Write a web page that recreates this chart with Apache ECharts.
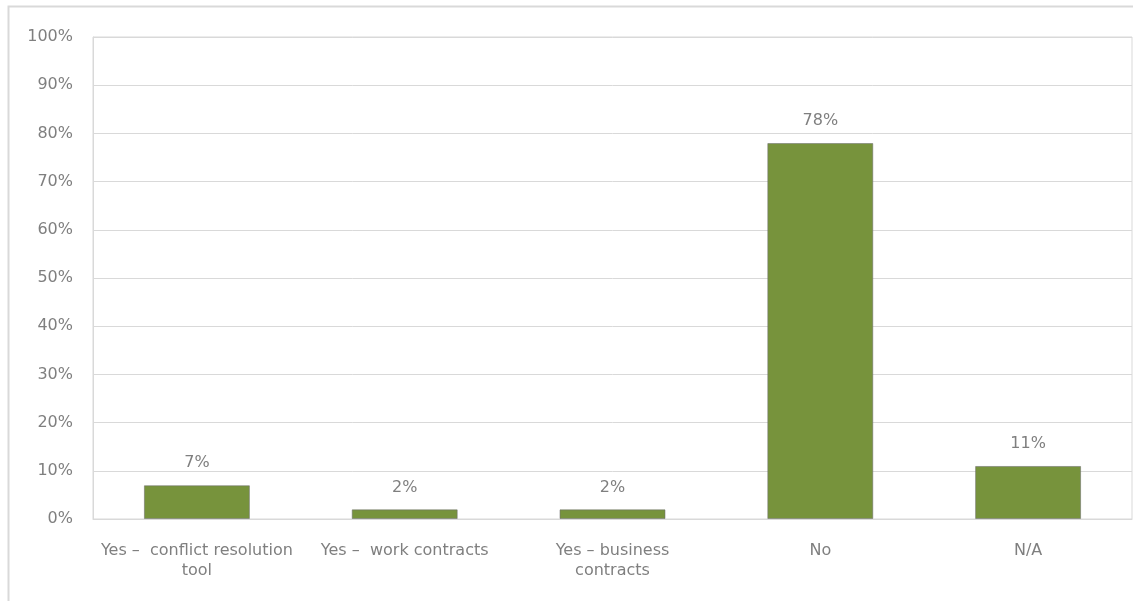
<!DOCTYPE html>
<html>
<head>
<meta charset="utf-8">
<script src="https://cdn.jsdelivr.net/npm/echarts@6/dist/echarts.min.js"></script>
<style>
  html, body { margin: 0; padding: 0; background: #fff; }
  #chart { width: 1133px; height: 601px; }
</style>
</head>
<body>
<div id="chart"></div>
<script>
// Survey answers and their share of respondents (%)
const categories = [
  'Yes \u2013  conflict resolution\ntool',
  'Yes \u2013  work contracts',
  'Yes \u2013 business\ncontracts',
  'No',
  'N/A'
];
const shares = [7, 2, 2, 78, 11];
const yTicks = [0, 10, 20, 30, 40, 50, 60, 70, 80, 90, 100];

const FONT = 'DejaVu Sans';
const TEXT = '#7f7f7f';
const LINE = '#d9d9d9';

const chart = echarts.init(document.getElementById('chart'), null, { renderer: 'canvas' });
chart.setOption({
  animation: false,
  backgroundColor: '#fff',
  graphic: [{
    type: 'rect',
    shape: { x: 8.5, y: 6.5, width: 1300, height: 800 },
    style: { fill: 'none', stroke: LINE, lineWidth: 2 },
    silent: true
  }],
  grid: {
    left: 93, right: 1, top: 37, bottom: 82,
    show: true, borderColor: LINE, borderWidth: 1
  },
  xAxis: {
    type: 'category',
    data: categories,
    axisLine: { show: true, lineStyle: { color: LINE } },
    axisTick: { show: false },
    axisLabel: {
      color: TEXT, fontFamily: FONT, fontSize: 16, lineHeight: 20,
      margin: 22, interval: 0
    }
  },
  yAxis: {
    type: 'value',
    min: yTicks[0], max: yTicks[yTicks.length - 1], interval: 10,
    axisLine: { show: true, lineStyle: { color: LINE } },
    axisTick: { show: false },
    splitLine: { lineStyle: { color: LINE } },
    axisLabel: {
      color: TEXT, fontFamily: FONT, fontSize: 16, margin: 20,
      formatter: v => v + '%'
    }
  },
  series: [{
    type: 'bar',
    data: shares,
    barWidth: '51%',
    itemStyle: {
      color: '#77933c',
      borderColor: 'rgba(110,110,110,0.55)',
      borderWidth: 1
    },
    label: {
      show: true, position: 'top', distance: 14,
      color: TEXT, fontFamily: FONT, fontSize: 16,
      formatter: p => p.value + '%'
    }
  }]
});
</script>
</body>
</html>
